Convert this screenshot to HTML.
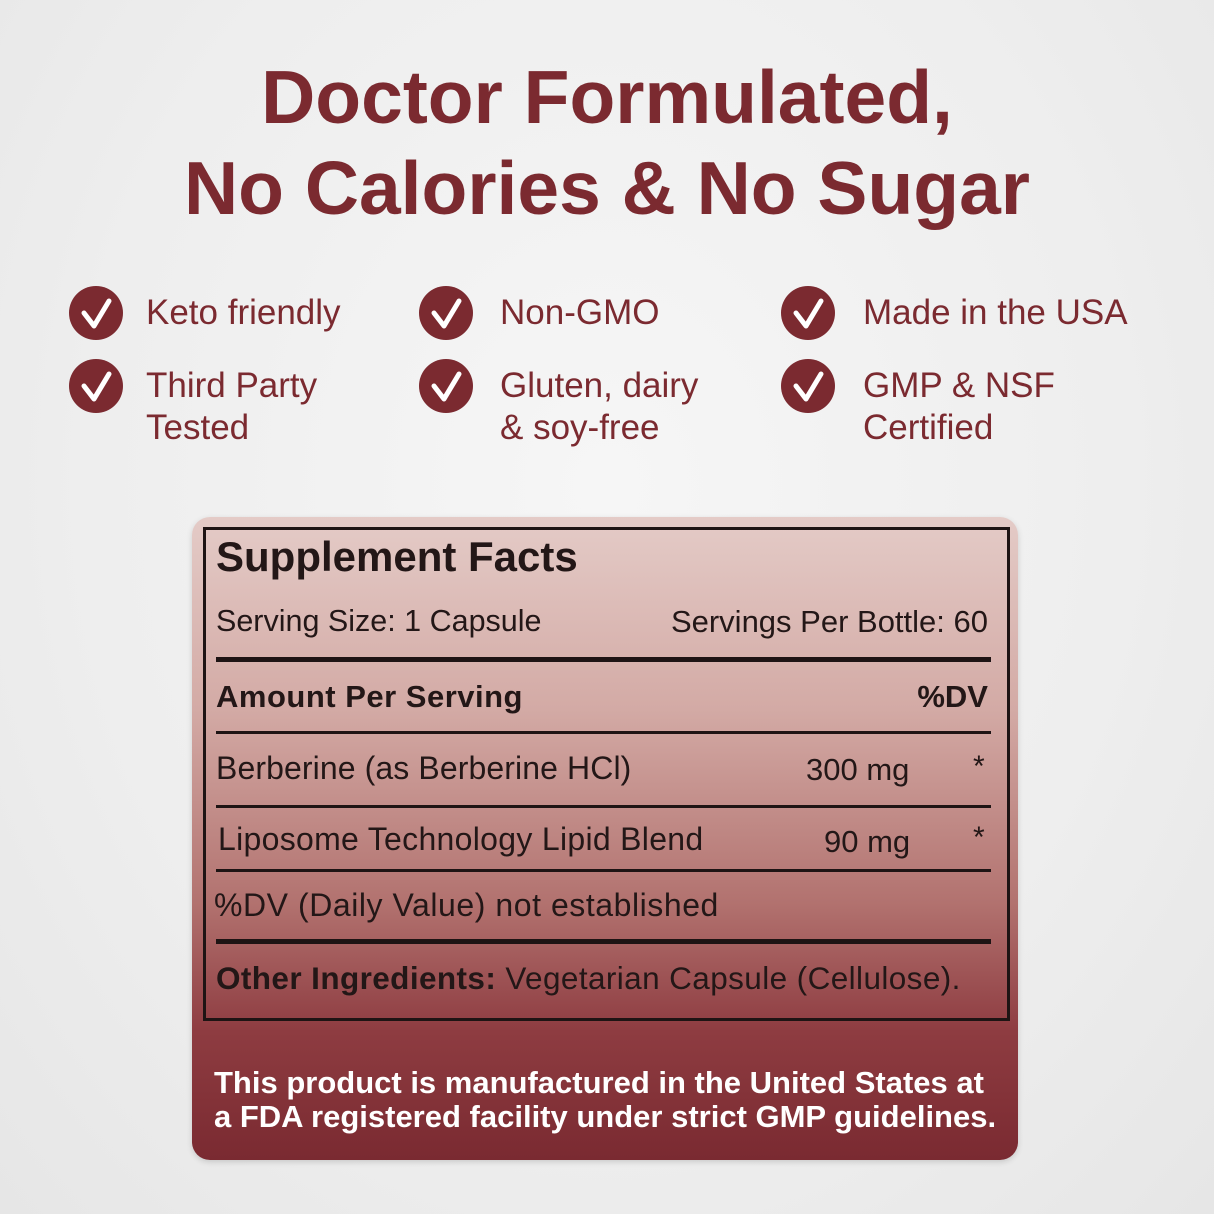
<!DOCTYPE html>
<html><head><style>
html,body{margin:0;padding:0}
body{width:1214px;height:1214px;position:relative;overflow:hidden;background:radial-gradient(ellipse at 50% 40%,#f6f6f6 0%,#eeeeee 60%,#e6e6e6 100%);font-family:"Liberation Sans",sans-serif}
.t{position:absolute;left:0;width:1214px;text-align:center;color:#7b2a30;font-weight:bold;font-size:75px;line-height:1}
.ck{position:absolute;width:54px;height:54px;border-radius:50%;background:#7b2a30}
.ck svg{position:absolute;left:0;top:0}
.f{position:absolute;color:#7b2a30;font-size:35px;line-height:42px}
.card{position:absolute;left:192px;top:517px;width:826px;height:643px;border-radius:18px;background:linear-gradient(180deg,#e4cbc7 0%,#d3aaa5 30%,#b2726f 60%,#8e3c41 80%,#7a2a31 100%);box-shadow:0 2px 6px rgba(0,0,0,.15)}
.box{position:absolute;left:203px;top:527px;width:801px;height:488px;border:3px solid #1e1414}
.x{position:absolute;color:#231717;font-size:30px;line-height:1;white-space:nowrap}
.b{font-weight:bold}
.ln{position:absolute;left:216px;width:775px;background:#1e1414}
</style></head><body>
<div class="t" style="top:60px">Doctor Formulated,</div>
<div class="t" style="top:151px">No Calories &amp; No Sugar</div>

<div class="ck" style="left:69px;top:286px"><svg width="54" height="54"><path d="M15 27 L25 40 L40 15" stroke="#fff" stroke-width="5" fill="none" stroke-linecap="round" stroke-linejoin="round"/></svg></div>
<div class="ck" style="left:69px;top:359px"><svg width="54" height="54"><path d="M15 27 L25 40 L40 15" stroke="#fff" stroke-width="5" fill="none" stroke-linecap="round" stroke-linejoin="round"/></svg></div>
<div class="ck" style="left:419px;top:286px"><svg width="54" height="54"><path d="M15 27 L25 40 L40 15" stroke="#fff" stroke-width="5" fill="none" stroke-linecap="round" stroke-linejoin="round"/></svg></div>
<div class="ck" style="left:419px;top:359px"><svg width="54" height="54"><path d="M15 27 L25 40 L40 15" stroke="#fff" stroke-width="5" fill="none" stroke-linecap="round" stroke-linejoin="round"/></svg></div>
<div class="ck" style="left:781px;top:286px"><svg width="54" height="54"><path d="M15 27 L25 40 L40 15" stroke="#fff" stroke-width="5" fill="none" stroke-linecap="round" stroke-linejoin="round"/></svg></div>
<div class="ck" style="left:781px;top:359px"><svg width="54" height="54"><path d="M15 27 L25 40 L40 15" stroke="#fff" stroke-width="5" fill="none" stroke-linecap="round" stroke-linejoin="round"/></svg></div>

<div class="f" style="left:146px;top:292px">Keto friendly</div>
<div class="f" style="left:146px;top:365px">Third Party<br>Tested</div>
<div class="f" style="left:500px;top:292px">Non-GMO</div>
<div class="f" style="left:500px;top:365px">Gluten, dairy<br>&amp; soy-free</div>
<div class="f" style="left:863px;top:292px">Made in the USA</div>
<div class="f" style="left:863px;top:365px">GMP &amp; NSF<br>Certified</div>

<div class="card"></div>
<div class="box"></div>
<div class="x b" style="left:216px;top:536px;font-size:42px">Supplement Facts</div>
<div class="x" style="left:216px;top:606px;font-size:30.5px">Serving Size: 1 Capsule</div>
<div class="x" style="right:226px;top:606px;font-size:31px">Servings Per Bottle: 60</div>
<div class="ln" style="top:657px;height:5px"></div>
<div class="x b" style="left:216px;top:681px;font-size:31px;letter-spacing:0.5px">Amount Per Serving</div>
<div class="x b" style="right:226px;top:681px;font-size:31px">%DV</div>
<div class="ln" style="top:731px;height:3px"></div>
<div class="x" style="left:216px;top:752px;font-size:32px;letter-spacing:0.1px">Berberine (as Berberine HCl)</div>
<div class="x" style="left:806px;top:754px;font-size:31px">300 mg</div>
<div class="x" style="left:973px;top:752px">*</div>
<div class="ln" style="top:805px;height:3px"></div>
<div class="x" style="left:218px;top:823px;font-size:32px;letter-spacing:0.3px">Liposome Technology Lipid Blend</div>
<div class="x" style="left:824px;top:826px;font-size:31px">90 mg</div>
<div class="x" style="left:973px;top:823px">*</div>
<div class="ln" style="top:869px;height:3px"></div>
<div class="x" style="left:214px;top:889px;font-size:32px;letter-spacing:0.55px">%DV (Daily Value) not established</div>
<div class="ln" style="top:939px;height:5px"></div>
<div class="x" style="left:216px;top:963px;font-size:31.5px;letter-spacing:0.4px"><b>Other Ingredients:</b> Vegetarian Capsule (Cellulose).</div>
<div class="x b" style="left:214px;top:1066px;color:#fff;font-size:31px;line-height:34px">This product is manufactured in the United States at<br>a FDA registered facility under strict GMP guidelines.</div>
</body></html>
